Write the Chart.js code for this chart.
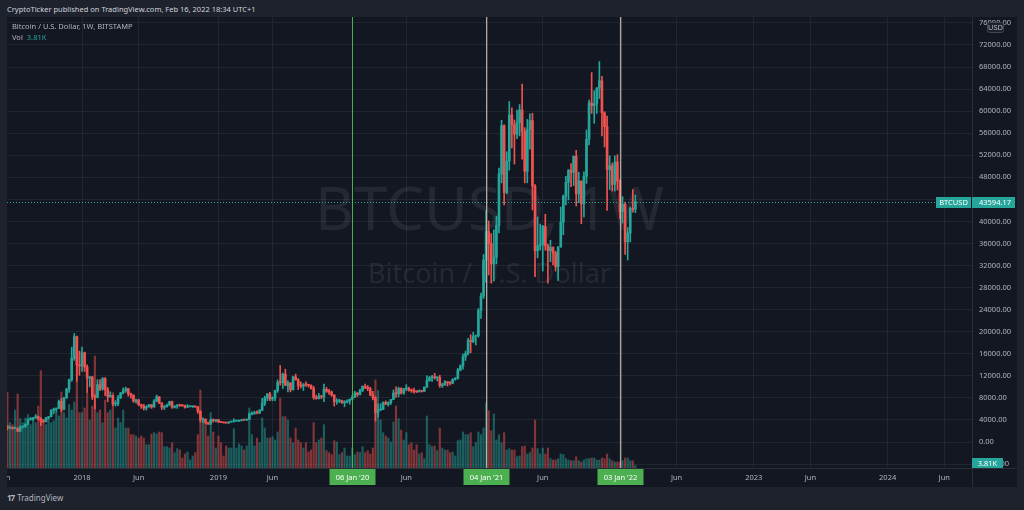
<!DOCTYPE html>
<html>
<head>
<meta charset="utf-8">
<title>BTCUSD 1W</title>
<script src="https://cdn.jsdelivr.net/npm/chart.js@4.4.1/dist/chart.umd.min.js"></script>
<style>
  html, body { margin: 0; padding: 0; }
  body { width: 1024px; height: 510px; background: #1e222d; overflow: hidden; position: relative; font-family: "Noto Sans", sans-serif; }
  #title { position: absolute; left: 7px; top: 3px; font-size: 7.5px; line-height: 12px; color: #d1d4dc; white-space: nowrap; }
  #wrap { position: absolute; left: 7px; top: 17px; width: 1010px; height: 470px; background: #131722; }
  #wrap canvas { display: block; }
  #legend { position: absolute; left: 5px; top: 3.5px; font-size: 7.5px; line-height: 11px; color: #b2b5be; white-space: nowrap; z-index: 2; }
  #legend .v { color: #26a69a; margin-left: 4px; }
  #foot { position: absolute; left: 7px; top: 492px; font-size: 8px; line-height: 12px; color: #b2b5be; white-space: nowrap; }
  #foot b { letter-spacing: -1px; margin-right: 3px; }
</style>
</head>
<body>
<div id="title">CryptoTicker published on TradingView.com, Feb 16, 2022 18:34 UTC+1</div>
<div id="wrap">
  <canvas id="chart" width="1010" height="470"></canvas>
  <div id="legend">Bitcoin / U.S. Dollar, 1W, BITSTAMP<br>Vol<span class="v">3.81K</span></div>
</div>
<div id="foot"><b>17</b>TradingView</div>
<script>
// weekly candles, week number counted from Mon 1 Jan 2018 (first candle = 12 Jun 2017)
const firstWeek = -29;

const openPrices = [
  2960,2530,2590,2500,2510,1940,2750,2760,3230,4070,
  4090,4350,4600,4300,3700,3660,4380,4600,5700,5950,
  6130,7370,5950,8000,9600,11300,15200,19100,14000,13800,
  16200,13600,11600,11800,8200,8100,10400,9600,11500,9500,
  8200,8450,6900,6920,8000,8900,9350,9650,8700,8500,
  7400,7600,6750,6500,6150,6380,6750,6350,7400,8200,
  7050,6300,6400,6700,7300,6300,6500,6700,6600,6580,
  6300,6400,6410,6450,6350,5600,4000,4150,3550,3250,
  3950,3850,4050,3600,3550,3460,3450,3630,3650,3800,
  3810,3900,4000,3980,4100,5050,5150,5300,5250,5750,
  7000,8000,8700,7800,8000,9300,10800,10750,12300,10250,
  10700,9500,11800,11300,10200,10150,10400,10350,10300,9700,
  8050,7880,8300,8200,9550,9200,9050,8500,7300,7400,
  7500,7100,7250,7400,7750,8100,8900,8600,9350,10100,
  9900,9650,8550,8050,5350,5800,5900,7150,6850,7150,
  7700,8900,8750,9700,8900,9650,9700,9350,9300,9150,
  9100,9300,9200,9950,11150,11650,11850,11650,11700,10250,
  10350,10900,10750,10650,11350,11500,13050,13800,15450,16050,
  18450,18200,19150,19250,23850,26450,33000,38200,36000,32300,
  33500,39250,48600,57400,45250,50950,59300,57500,55800,57950,
  60200,56300,49100,56700,58300,46400,34700,35600,35800,39100,
  35600,34700,35300,34300,31800,35400,39900,44600,47100,49300,
  48900,51800,45000,47300,43200,48200,54900,61500,61000,61300,
  64200,65500,59700,57200,49400,50100,46700,50800,47300,41800,
  43100,36300,37900,42400,42200
];
const highPrices = [
  2980,2780,2600,2650,2530,2930,2830,3300,4200,4480,
  4470,4980,4700,4400,4100,4470,4620,5860,6150,6200,
  7600,7890,8100,9750,11400,17200,19666,19200,16500,17200,
  16300,14000,11900,11900,8600,11300,11300,11700,11700,9900,
  9100,8500,7500,8400,9000,9800,9950,9700,8850,8550,
  7800,7760,6880,6850,6600,6850,6800,7700,8500,8250,
  7150,6600,6900,7400,7400,6600,6800,6850,6700,6700,
  6800,6550,6470,6550,6450,5650,4400,4200,3600,4200,
  4200,4100,4100,3700,3620,3500,3700,3700,4200,3900,
  3950,4000,4050,4150,5300,5450,5600,5650,5900,7900,
  8300,8800,9000,8200,9400,11250,13880,12500,13200,11100,
  10800,11950,12300,11500,10900,10600,10900,10450,10350,10100,
  8500,8800,8400,10500,9900,9550,9250,8600,7850,7750,
  7600,7500,7650,7800,8450,9200,8950,9600,10180,10500,
  10250,9950,9200,8200,6900,6950,7300,7450,7300,7750,
  9450,10000,9950,9850,9700,10400,9950,9600,9800,9300,
  9450,9350,10000,12000,11900,12100,12450,11800,12100,10650,
  11150,10950,10950,11500,11700,13350,14000,15950,16500,18800,
  19450,19900,19400,24200,27000,34000,41950,40100,37800,38500,
  40950,49700,58350,57500,52650,61750,60600,58400,60200,61200,
  64900,57000,58500,59500,59600,46700,40800,39500,39300,41300,
  35900,36600,35400,34600,35400,42600,44800,48200,49400,50500,
  51900,52900,48900,47400,49000,56600,62000,67000,63700,64300,
  69000,66300,59900,59100,51900,50600,51900,52100,47600,44500,
  43500,38900,42600,45800,44800
];
const lowPrices = [
  2200,2450,2300,2480,1830,1900,2540,2650,3200,3950,
  3950,4280,4000,2970,3560,3660,4150,4560,5100,5400,
  6030,5500,5800,7900,9000,11000,14800,11000,12100,12800,
  12800,9000,10000,7700,6000,8000,9300,9400,8400,7300,
  8100,6600,6500,6600,7900,8700,9000,8300,7950,7200,
  7050,6600,6100,5800,5780,6300,6100,6300,7350,6950,
  5880,5900,6300,6650,6100,6150,6100,6450,6450,6150,
  6300,6350,6250,6300,5200,3600,3500,3300,3200,3200,
  3600,3650,3550,3500,3450,3350,3380,3580,3650,3750,
  3700,3800,3900,3900,4100,4900,5000,5100,5150,5700,
  6600,7500,7500,7450,7500,9000,10300,9700,10200,9100,
  9100,9400,11200,9500,9800,9350,10100,9950,9600,7750,
  7750,7800,7850,7300,9000,8650,8300,6500,6850,7150,
  7000,6400,7100,6850,7700,8100,8250,8550,9150,9650,
  9300,8400,7650,3800,4450,5700,5850,6750,6500,6800,
  7700,8100,8200,8700,8650,9300,9200,9000,8850,8950,
  9050,9050,9150,9900,11000,11000,11400,11100,9900,9900,
  10300,10150,10350,10550,11200,11400,12900,13200,14800,15800,
  16200,18000,17600,19000,22400,26000,29000,30300,28800,29200,
  32300,37900,47000,43000,45000,49300,53350,50400,55000,55500,
  51300,47000,47000,53100,42100,30000,33400,34800,31000,34800,
  28800,32700,32100,31000,29300,35300,37600,43000,43900,46300,
  46500,42800,43400,39600,40800,46900,53900,59600,57800,59600,
  62300,55500,53500,42000,45800,45500,45500,45700,40500,39700,
  34000,33000,36300,41700,41600
];
const closePrices = [
  2530,2590,2500,2510,1940,2750,2760,3230,4070,4090,
  4350,4600,4300,3700,3660,4380,4600,5700,5950,6130,
  7370,5950,8000,9600,11300,15200,19100,14000,13800,16200,
  13600,11600,11800,8200,8100,10400,9600,11500,9500,8200,
  8450,6900,6920,8000,8900,9350,9650,8700,8500,7400,
  7600,6750,6500,6150,6380,6750,6350,7400,8200,7050,
  6300,6400,6700,7300,6300,6500,6700,6600,6580,6300,
  6400,6410,6450,6350,5600,4000,4150,3550,3250,3950,
  3850,4050,3600,3550,3460,3450,3630,3650,3800,3810,
  3900,4000,3980,4100,5050,5150,5300,5250,5750,7000,
  8000,8700,7800,8000,9300,10800,10750,12300,10250,10700,
  9500,11800,11300,10200,10150,10400,10350,10300,9700,8050,
  7880,8300,8200,9550,9200,9050,8500,7300,7400,7500,
  7100,7250,7400,7750,8100,8900,8600,9350,10100,9900,
  9650,8550,8050,5350,5800,5900,7150,6850,7150,7700,
  8900,8750,9700,8900,9650,9700,9350,9300,9150,9100,
  9300,9200,9950,11150,11650,11850,11650,11700,10250,10350,
  10900,10750,10650,11350,11500,13050,13800,15450,16050,18450,
  18200,19150,19250,23850,26450,33000,38200,36000,32300,33500,
  39250,48600,57400,45250,50950,59300,57500,55800,57950,60200,
  56300,49100,56700,58300,46400,34700,35600,35800,39100,35600,
  34700,35300,34300,31800,35400,39900,44600,47100,49300,48900,
  51800,45000,47300,43200,48200,54900,61500,61000,61300,64200,
  65500,59700,57200,49400,50100,46700,50800,47300,41800,43100,
  36300,37900,42400,42200,43594.17
];
// weekly volume, thousands of BTC
const volumes = [
  114,68,65,87,111,74,68,75,80,65,
  75,68,93,146,72,65,75,68,71,83,
  78,114,83,75,95,87,99,167,83,83,
  90,113,72,93,168,83,87,68,102,83,
  87,113,60,75,68,87,60,60,50,50,
  48,45,48,45,35,35,51,53,51,54,
  53,32,32,30,38,23,29,27,15,21,
  24,12,18,23,50,117,68,72,48,83,
  54,30,48,38,18,33,30,30,59,30,
  36,33,27,33,90,50,33,45,38,75,
  60,45,45,47,42,54,105,77,77,72,
  45,38,60,42,38,30,38,24,27,68,
  38,42,45,65,26,23,20,41,39,20,
  23,30,18,18,30,20,24,23,32,23,
  26,21,30,132,116,72,53,48,45,39,
  69,93,74,57,42,53,35,38,27,35,
  21,23,14,78,35,32,33,26,60,30,
  27,27,23,24,18,41,42,54,50,50,
  53,32,38,54,50,60,98,86,56,81,
  42,50,38,53,27,29,27,27,17,18,
  32,33,21,23,30,72,29,21,30,21,
  30,14,12,12,14,21,20,14,12,11,
  11,17,11,9,12,14,14,15,15,12,
  12,15,14,21,14,11,9,9,9,11,
  15,15,11,11,3.81
];

const priceTicks = [-4000,0,4000,8000,12000,16000,20000,24000,28000,32000,36000,40000,
  44000,48000,52000,56000,60000,64000,68000,72000,76000];
const timeTicks  = [-30, 0, 22, 53, 74, 105, 126, 157, 179, 209, 231, 261, 283, 313, 335];
const timeLabels = ['Jun','2018','Jun','2019','Jun','','Jun','','Jun','','Jun','2023','Jun','2024','Jun'];
const markerWeeks  = [105, 157, 209];
const markerLabels = ["06 Jan '20", "04 Jan '21", "03 Jan '22"];
const symbol = 'BTCUSD';
const watermark = ['BTCUSD, 1W', 'Bitcoin / U.S. Dollar'];
const lastVolume = '3.81K';

const UP = '#26a69a', DOWN = '#ef5350';
const UPV = 'rgba(38,166,154,0.5)', DOWNV = 'rgba(239,83,80,0.5)';
const gridColor = 'rgba(42,46,57,0.6)';
const lineColor = '#2a2e39';
const font = '7.5px "Noto Sans", sans-serif';

const weeks = closePrices.map((c, i) => firstWeek + i);
const isUp = i => closePrices[i] >= openPrices[i];

const overlay = {
  id: 'overlay',
  beforeDatasetsDraw(chart) {
    const {ctx, chartArea: a} = chart;
    const cx = (a.left + a.right) / 2, cy = (a.top + a.bottom) / 2;
    ctx.save();
    ctx.fillStyle = 'rgba(178,181,190,0.11)';
    ctx.textAlign = 'center';
    ctx.textBaseline = 'middle';
    ctx.font = '60px "Noto Sans", sans-serif';
    ctx.fillText(watermark[0], cx, cy - 30);
    ctx.font = '27px "Noto Sans", sans-serif';
    ctx.fillText(watermark[1], cx, cy + 33);
    ctx.restore();
  },
  afterDatasetsDraw(chart) {
    const {ctx, chartArea: a, scales: {x, y}} = chart;
    ctx.save();
    // last price line
    const py = Math.round(y.getPixelForValue(closePrices[closePrices.length - 1])) + 0.5;
    ctx.strokeStyle = UP;
    ctx.lineWidth = 1;
    ctx.setLineDash([1, 2]);
    ctx.beginPath(); ctx.moveTo(a.left, py); ctx.lineTo(a.right, py); ctx.stroke();
    ctx.setLineDash([]);
    // year markers
    markerWeeks.forEach((w, i) => {
      const mx = Math.round(x.getPixelForValue(w));
      if (i === 0) {
        ctx.fillStyle = '#4caf50';
        ctx.fillRect(mx, a.top, 1, a.bottom - a.top);
      } else {
        ctx.fillStyle = 'rgba(215,185,185,0.85)';
        ctx.fillRect(mx, a.top, 1, a.bottom - a.top);
        ctx.fillStyle = 'rgba(120,140,110,0.45)';
        ctx.fillRect(mx + 1, a.top, 1, a.bottom - a.top);
      }
    });
    ctx.restore();
  },
  afterDraw(chart) {
    const {ctx, chartArea: a, scales: {x, y}} = chart;
    const W = chart.width, H = chart.height;
    ctx.save();
    ctx.strokeStyle = lineColor;
    ctx.lineWidth = 1;
    ctx.beginPath();
    ctx.moveTo(Math.round(a.right) + 0.5, 0); ctx.lineTo(Math.round(a.right) + 0.5, H);
    ctx.moveTo(0, Math.round(a.bottom) + 0.5); ctx.lineTo(W, Math.round(a.bottom) + 0.5);
    ctx.stroke();

    ctx.font = font;
    ctx.textBaseline = 'middle';
    ctx.fillStyle = '#b2b5be';
    ctx.textAlign = 'left';
    priceTicks.forEach(v => ctx.fillText(v.toFixed(2), a.right + 7, y.getPixelForValue(v)));
    ctx.textAlign = 'center';
    timeTicks.forEach((w, i) => {
      if (timeLabels[i]) ctx.fillText(timeLabels[i], x.getPixelForValue(w), a.bottom + 10);
    });

    // marker date boxes
    markerWeeks.forEach((w, i) => {
      const mx = Math.round(x.getPixelForValue(w)) + 0.5;
      ctx.fillStyle = '#4caf50';
      ctx.fillRect(mx - 23, a.bottom + 1, 46, 16);
      ctx.fillStyle = '#ffffff';
      ctx.fillText(markerLabels[i], mx, a.bottom + 9.5);
    });

    // last price labels
    const last = closePrices[closePrices.length - 1];
    const py = Math.round(y.getPixelForValue(last));
    ctx.fillStyle = UP;
    ctx.fillRect(a.right - 36, py - 5, 35, 11);
    ctx.fillRect(a.right, py - 5, 43, 11);
    ctx.fillStyle = '#ffffff';
    ctx.fillText(symbol, a.right - 18.5, py + 0.5);
    ctx.textAlign = 'left';
    ctx.fillText(last.toFixed(2), a.right + 7, py + 0.5);

    // volume label
    ctx.fillStyle = UP;
    ctx.fillRect(a.right, a.bottom - 10, 31, 10);
    ctx.fillStyle = '#ffffff';
    ctx.textAlign = 'center';
    ctx.fillText(lastVolume, a.right + 15.5, a.bottom - 4.5);

    // currency badge
    ctx.fillStyle = '#1e222d';
    ctx.strokeStyle = '#434651';
    ctx.beginPath();
    ctx.roundRect(a.right + 15.5, 5.5, 16, 10, 2);
    ctx.fill(); ctx.stroke();
    ctx.fillStyle = '#b2b5be';
    ctx.fillText('USD', a.right + 23.5, 11);
    ctx.restore();
  }
};

new Chart(document.getElementById('chart'), {
  type: 'bar',
  data: {
    datasets: [
      {
        label: 'body',
        data: weeks.map((w, i) => ({x: w, y: [openPrices[i], closePrices[i]]})),
        backgroundColor: weeks.map((w, i) => isUp(i) ? UP : DOWN),
        barThickness: 2,
        minBarLength: 1,
        grouped: false,
        order: 0,
        yAxisID: 'y'
      },
      {
        label: 'wick',
        data: weeks.map((w, i) => ({x: w, y: [lowPrices[i], highPrices[i]]})),
        backgroundColor: weeks.map((w, i) => isUp(i) ? UP : DOWN),
        barThickness: 1,
        grouped: false,
        order: 1,
        yAxisID: 'y'
      },
      {
        label: 'Vol',
        data: weeks.map((w, i) => ({x: w, y: volumes[i]})),
        backgroundColor: weeks.map((w, i) => isUp(i) ? UPV : DOWNV),
        barThickness: 1.5,
        grouped: false,
        order: 2,
        yAxisID: 'vol'
      }
    ]
  },
  options: {
    responsive: false,
    animation: false,
    events: [],
    layout: { padding: 0 },
    plugins: { legend: { display: false }, tooltip: { enabled: false } },
    scales: {
      x: {
        type: 'linear',
        min: -29.14,
        max: 345.77,
        offset: false,
        afterBuildTicks: s => { s.ticks = timeTicks.map(v => ({value: v})); },
        afterFit: s => { s.height = 19; },
        grid: { color: gridColor, drawTicks: false, offset: false },
        border: { color: lineColor },
        ticks: { display: false }
      },
      y: {
        type: 'linear',
        position: 'right',
        min: -4715,
        max: 77078,
        afterBuildTicks: s => { s.ticks = priceTicks.map(v => ({value: v})); },
        afterFit: s => { s.width = 45; },
        grid: { color: gridColor, drawTicks: false },
        border: { color: lineColor },
        ticks: { display: false }
      },
      vol: {
        axis: 'y',
        type: 'linear',
        display: false,
        min: 0,
        max: 676.5
      }
    }
  },
  plugins: [overlay]
});
</script>
</body>
</html>
